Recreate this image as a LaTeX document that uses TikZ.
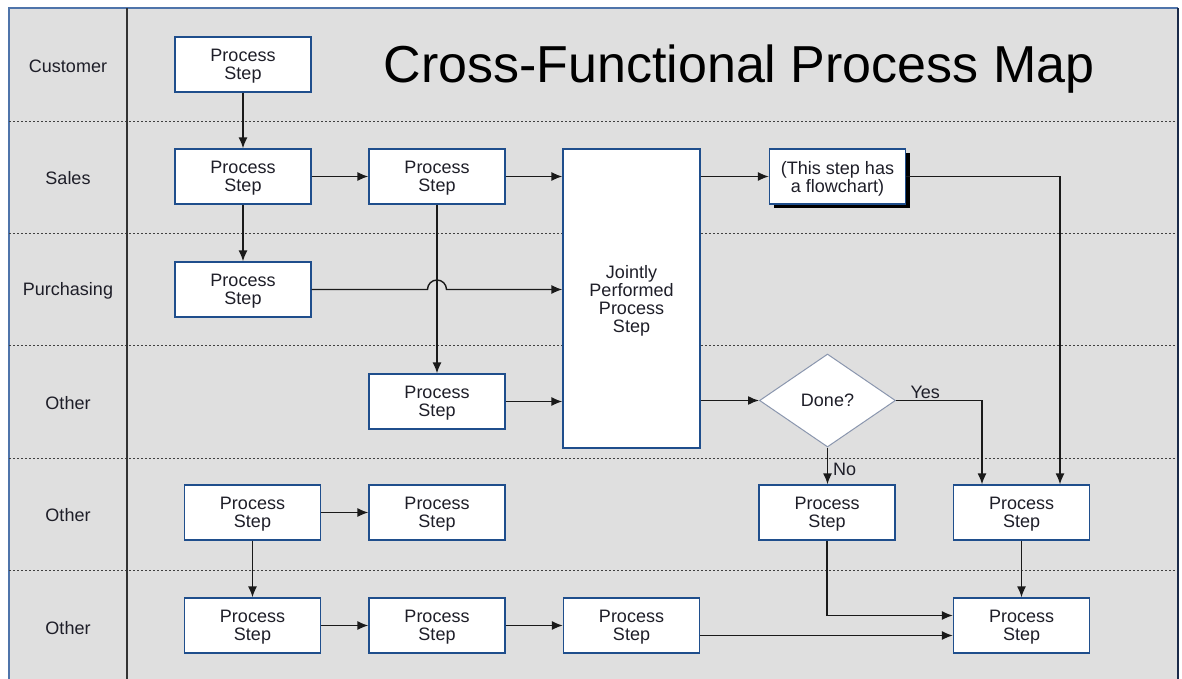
\documentclass[tikz,border=0pt]{standalone}
\usepackage{fontspec}
\setmainfont{Liberation Sans}
\usetikzlibrary{arrows.meta,shapes.geometric,shadows,calc}

\definecolor{lanebg}{HTML}{DFDFDF}
\definecolor{frameblue}{HTML}{4F74AA}
\definecolor{frameedge}{HTML}{1B2A4A}
\definecolor{boxblue}{HTML}{1F4E8C}
\definecolor{diaedge}{HTML}{8A96AE}
\definecolor{ink}{HTML}{1E1E28}
\definecolor{wire}{HTML}{1A1A1A}

\tikzset{
  stepbox/.style={draw=boxblue, fill=white, line width=1.3pt,
    minimum width=136pt, minimum height=55pt, inner sep=0pt, text depth=0pt,
    align=center, text=ink, font=\fontsize{18}{18}\selectfont},
  lanelabel/.style={text=ink, font=\fontsize{18}{18}\selectfont},
  decision/.style={shape=diamond, draw=diaedge, fill=white, line width=1pt,
    minimum width=136pt, minimum height=93pt, inner sep=0pt, aspect=1.46,
    text=ink, font=\fontsize{18}{18}\selectfont},
  flow/.style={draw=wire, line width=1.4pt, -{Latex[length=11pt,width=9pt]}},
  lanesep/.style={draw=black!75, line width=0.9pt, dash pattern=on 2pt off 2pt},
  edgelabel/.style={text=ink, font=\fontsize{18}{18}\selectfont, inner sep=1pt}
}

\begin{document}
\begin{tikzpicture}[x=1pt, y=-1pt]
  \useasboundingbox (0,0) rectangle (1182,679);
  \clip (0,0) rectangle (1182,679);

  % swimlane frame
  \fill[white] (0,0) rectangle (1182,679);
  \fill[lanebg] (9,8) rectangle (1178,700);
  \draw[frameblue, line width=1.3pt] (9,700) -- (9,8) -- (1178,8);
  \draw[frameedge, line width=2.5pt] (1178,8) -- (1178,700);
  \foreach \y in {121,233,345,458,570}
    \draw[lanesep] (9,\y) -- (1177,\y);
  \draw[black!80, line width=1.3pt] (127,8) -- (127,700);

  % lane names
  \node[lanelabel] (lcust) at (68,66)  {Customer};
  \node[lanelabel] (lsale) at (68,178) {Sales};
  \node[lanelabel] (lpurc) at (68,291) {Purchasing};
  \node[lanelabel] (loth1) at (68,403) {Other};
  \node[lanelabel] (loth2) at (68,515) {Other};
  \node[lanelabel] (loth3) at (68,628) {Other};

  % title
  \node[text=black, font=\fontsize{52}{56}\selectfont] (title) at (739,69)
    {Cross-Functional Process Map};

  % process steps
  \node[stepbox] (c1) at (243,64.5)  {Process\\Step};
  \node[stepbox] (s1) at (243,176.5) {Process\\Step};
  \node[stepbox] (s2) at (437,176.5) {Process\\Step};
  \node[stepbox] (p1) at (243,289.5) {Process\\Step};
  \node[stepbox, minimum width=137pt, minimum height=299pt] (joint) at (631.5,298.5)
    {Jointly\\Performed\\Process\\Step};
  \node[stepbox, drop shadow={shadow xshift=4pt, shadow yshift=-4pt, fill=black, opacity=1}]
    (fc) at (837.5,176.5) {(This step has\\a flowchart)};
  \node[stepbox] (o1) at (437,401.5) {Process\\Step};
  \node[decision] (done) at (827.5,400.5) {Done?};

  \node[stepbox] (a1) at (252.5,512.5)  {Process\\Step};
  \node[stepbox] (a2) at (437,512.5)    {Process\\Step};
  \node[stepbox] (a3) at (827,512.5)    {Process\\Step};
  \node[stepbox] (a4) at (1021.5,512.5) {Process\\Step};

  \node[stepbox] (b1) at (252.5,625.5)  {Process\\Step};
  \node[stepbox] (b2) at (437,625.5)    {Process\\Step};
  \node[stepbox] (b3) at (631.5,625.5)  {Process\\Step};
  \node[stepbox] (b4) at (1021.5,625.5) {Process\\Step};

  % connectors
  \draw[flow] (c1) -- (s1);
  \draw[flow] (s1) -- (s2);
  \draw[flow] (s2.east) -- (s2.east -| joint.west);
  \draw[flow] (fc.west -| joint.east) -- (fc.west);
  \draw[flow] (fc.east) -| ($(a4.north)+(38.5,0)$);
  \draw[flow] (s1) -- (p1);
  \coordinate (hop) at (s2 |- p1);
  \draw[flow] (p1.east) -- ([xshift=-9.5pt]hop)
    arc[start angle=180, end angle=0, radius=9.5pt] -- (p1.east -| joint.west);
  \draw[flow] (s2) -- (o1);
  \draw[flow] (o1.east) -- (o1.east -| joint.west);
  \draw[flow] (done.west -| joint.east) -- (done.west);
  \draw[flow] (done.east) -| node[edgelabel, pos=0.17, above] (yes) {Yes}
    ($(a4.north)+(-39.5,0)$);
  \draw[flow] (done.south) -- node[edgelabel, pos=0.6, right, xshift=4pt] (no) {No}
    (done.south |- a3.north);
  \draw[flow] (a1) -- (a2);
  \draw[flow] (a1) -- (b1);
  \draw[flow] (b1) -- (b2);
  \draw[flow] (b2) -- (b3);
  \draw[flow] ([yshift=-10pt]b3.east) -- ([yshift=-10pt]b3.east -| b4.west);
  \draw[flow] (a3.south) |- ([yshift=10pt]b4.west);
  \draw[flow] (a4) -- (b4);
\end{tikzpicture}
\end{document}
